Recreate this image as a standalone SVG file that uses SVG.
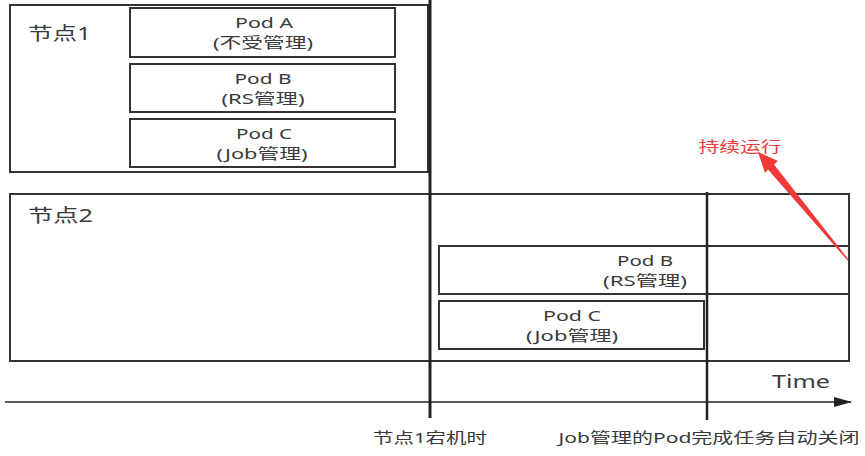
<svg xmlns="http://www.w3.org/2000/svg" width="865" height="456" viewBox="0 0 865 456">
<style>
.box{fill:none;stroke:#333;stroke-width:2}
.t{font-family:"Noto Sans","Noto Sans CJK SC",sans-serif;fill:#3a3a3a;font-size:15px;text-anchor:middle}
.big{font-size:18px;text-anchor:start}
.ln{stroke:#222;fill:none}
</style>
<defs>
<marker id="ah" markerWidth="18" markerHeight="10" refX="17" refY="5" orient="auto" markerUnits="userSpaceOnUse">
<path d="M0,0 L18,5 L0,10 Z" fill="#222"/>
</marker>
</defs>
<rect width="865" height="456" fill="#fff"/>
<g id="node1">
<rect class="box" x="10" y="5" width="418" height="167"/>
<text class="t big" x="28" y="40" textLength="63" lengthAdjust="spacingAndGlyphs">节点1</text>
</g>
<g id="podA1">
<rect class="box" x="130" y="8" width="265" height="49"/>
<text class="t" x="264" y="28" textLength="58" lengthAdjust="spacingAndGlyphs">Pod A</text>
<text class="t" x="263" y="48" textLength="100" lengthAdjust="spacingAndGlyphs">(不受管理)</text>
</g>
<g id="podB1">
<rect class="box" x="130" y="64" width="265" height="48"/>
<text class="t" x="263" y="84" textLength="57" lengthAdjust="spacingAndGlyphs">Pod B</text>
<text class="t" x="263" y="104" textLength="83" lengthAdjust="spacingAndGlyphs">(RS管理)</text>
</g>
<g id="podC1">
<rect class="box" x="130" y="119" width="265" height="48"/>
<text class="t" x="264" y="139" textLength="56" lengthAdjust="spacingAndGlyphs">Pod C</text>
<text class="t" x="262" y="159" textLength="91" lengthAdjust="spacingAndGlyphs">(Job管理)</text>
</g>
<g id="node2">
<rect class="box" x="10" y="194" width="839" height="167"/>
<text class="t big" x="28" y="222" textLength="65" lengthAdjust="spacingAndGlyphs">节点2</text>
</g>
<g id="podB2">
<rect class="box" x="439" y="246" width="410" height="48"/>
<text class="t" x="645" y="266" textLength="56" lengthAdjust="spacingAndGlyphs">Pod B</text>
<text class="t" x="645" y="286" textLength="84" lengthAdjust="spacingAndGlyphs">(RS管理)</text>
</g>
<g id="podC2">
<rect class="box" x="439" y="301" width="265" height="48"/>
<text class="t" x="572" y="321" textLength="58" lengthAdjust="spacingAndGlyphs">Pod C</text>
<text class="t" x="572" y="341" textLength="92" lengthAdjust="spacingAndGlyphs">(Job管理)</text>
</g>
<g id="connectors">
<line class="ln" x1="430" y1="0" x2="430" y2="418" stroke-width="3"/>
<line class="ln" x1="707" y1="192" x2="707" y2="420" stroke-width="2.5"/>
<line class="ln" x1="5" y1="402" x2="851" y2="402" stroke-width="1.5" marker-end="url(#ah)"/>
<polygon points="758,152 778,161 774,164.5 848.5,259.5 847.5,260.5 768,169.5 765,173" fill="#f03a3a"/>
</g>
<g id="labels">
<text class="t big" x="772" y="388" textLength="58" lengthAdjust="spacingAndGlyphs">Time</text>
<text class="t" x="430" y="443" textLength="114" lengthAdjust="spacingAndGlyphs">节点1宕机时</text>
<text class="t" x="709" y="443" textLength="301" lengthAdjust="spacingAndGlyphs">Job管理的Pod完成任务自动关闭</text>
<text class="t" x="740" y="152" textLength="83" lengthAdjust="spacingAndGlyphs" style="fill:#f03a3a;font-size:15px">持续运行</text>
</g>
</svg>
